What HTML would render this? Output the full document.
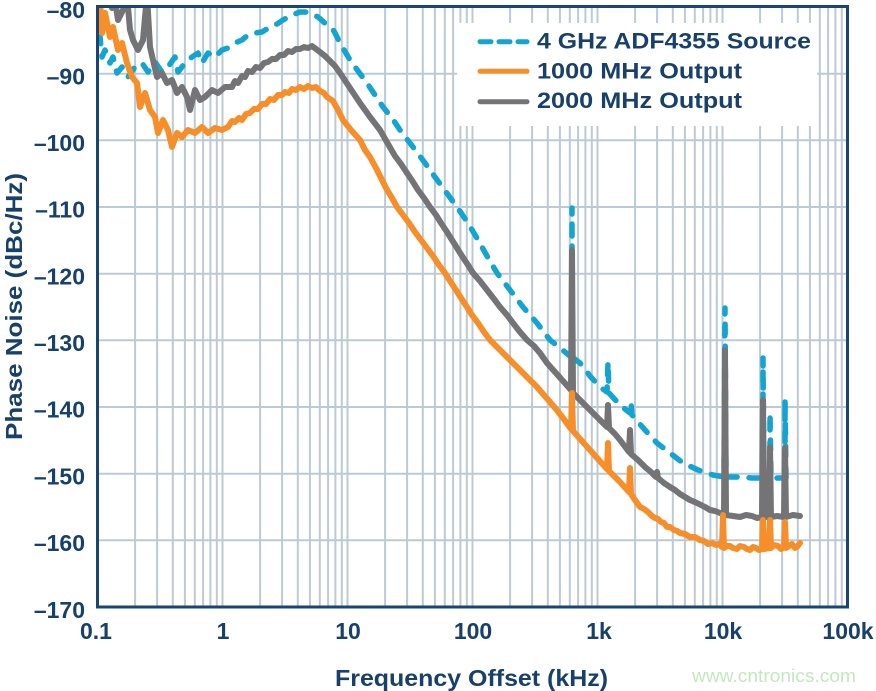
<!DOCTYPE html>
<html>
<head>
<meta charset="utf-8">
<style>
  html,body{margin:0;padding:0;background:#ffffff;}
  svg{display:block;}
  .t{font-family:"Liberation Sans",Arial,sans-serif;font-weight:bold;fill:#17406a;}
</style>
</head>
<body>
<svg width="876" height="691" viewBox="0 0 876 691" xmlns="http://www.w3.org/2000/svg">
  <defs>
    <clipPath id="pa"><rect x="97.5" y="7" width="750" height="600"/></clipPath>
  </defs>
  <rect x="0" y="0" width="876" height="691" fill="#ffffff"/>

  <!-- grid -->
  <g stroke="#bccad6" stroke-width="2" fill="none">
    <path d="M135.1,7V607 M157.1,7V607 M172.8,7V607 M184.9,7V607 M194.8,7V607 M203.1,7V607 M210.4,7V607 M216.8,7V607
             M222.5,7V607 M260.1,7V607 M282.1,7V607 M297.8,7V607 M309.9,7V607 M319.8,7V607 M328.1,7V607 M335.4,7V607 M341.8,7V607
             M347.5,7V607 M385.1,7V607 M407.1,7V607 M422.8,7V607 M434.9,7V607 M444.8,7V607 M453.1,7V607 M460.4,7V607 M466.8,7V607
             M472.5,7V607 M510.1,7V607 M532.1,7V607 M547.8,7V607 M559.9,7V607 M569.8,7V607 M578.1,7V607 M585.4,7V607 M591.8,7V607
             M597.5,7V607 M635.1,7V607 M657.1,7V607 M672.8,7V607 M684.9,7V607 M694.8,7V607 M703.1,7V607 M710.4,7V607 M716.8,7V607
             M722.5,7V607 M760.1,7V607 M782.1,7V607 M797.8,7V607 M809.9,7V607 M819.8,7V607 M828.1,7V607 M835.4,7V607 M841.8,7V607"/>
    <path d="M97.5,73.7H847.5 M97.5,140.3H847.5 M97.5,207H847.5 M97.5,273.7H847.5 M97.5,340.3H847.5 M97.5,407H847.5 M97.5,473.7H847.5 M97.5,540.3H847.5"/>
  </g>

  <!-- legend background -->
  <rect x="457" y="23" width="360" height="103" fill="#ffffff"/>

  <g clip-path="url(#pa)" fill="none" stroke-linejoin="round" stroke-linecap="round">
    <!-- blue dashed -->
    <path stroke="#13a4cf" stroke-width="5.5" stroke-dasharray="10 12"
      d="M97,38 L100,37 L102,57 L105,50 L110,63 L113,57 L117,73 L122,67 L128,77 L135,67 L142,63 L148,72 L155,62 L162,72 L168,67 L175,57 L178,72 L185,63 L192,57 L198,53 L202,63 L208,53 L215,57 L222,50 L228,48 L235,43 L242,40 L248,35 L255,33 L262,32 L270,27 L277,24 L283,20 L292,15 L300,12 L305,12 L310,13 L318,17 L327,25 L334,31 L340,43 L350,60 L358,71 L367,83 L375,95 L383,107 L392,118 L400,130 L413,147 L425,163 L435,177 L446,192 L457,207 L468,223 L478,240 L487,256 L497,273 L510,290 L523,307 L537,323 L550,340 L560,348 L570,356 L572,356 L572,208 L572,357 L580,363 L590,376 L600,387 L607,392 L608,362 L609,393 L620,405 L630,413 L631,402 L632,415 L645,430 L657,443 L670,453 L683,463 L698,470 L713,475 L724,477 L725,308 L726,477 L740,477 L752,478 L763,478 L763,358 L764,478 L770,478 L770,413 L771,478 L785,478 L785,400 L786,478 L797,477"/>
    <!-- gray -->
    <path stroke="#747477" stroke-width="6"
      d="M97,-5 L103,5 L108,-5 L112,8 L115,0 L118,20 L123,10 L127,-5 L130,30 L133,40 L138,50 L143,40 L147,-5 L150,47 L153,60 L157,77 L162,73 L167,83 L172,80 L177,93 L182,87 L187,97 L190,110 L195,90 L200,100 L205,97 L212,90 L218,93 L225,87 L232,87 L235,81 L238,83 L242,76 L245,77 L248,71 L252,72 L256,67 L260,68 L264,63 L268,62 L272,59 L276,59 L280,55 L284,55 L288,51 L292,52 L296,49 L300,49 L304,47 L308,48 L312,46 L316,49 L320,52 L325,56 L330,61 L335,66 L340,73 L350,88 L360,103 L370,117 L380,130 L388,144 L395,156 L401,164 L407,173 L413,182 L418,190 L424,198 L430,207 L436,215 L441,223 L447,232 L452,240 L457,248 L462,256 L468,265 L473,273 L480,281 L487,290 L494,299 L500,307 L507,315 L513,323 L520,332 L527,340 L534,346 L540,353 L547,363 L555,372 L563,381 L571,390 L572,250 L573,393 L581,401 L590,410 L598,418 L607,427 L608,405 L609,428 L615,434 L620,440 L629,452 L630,430 L631,454 L638,460 L645,467 L651,472 L656,477 L657,472 L658,478 L664,483 L670,487 L675,490 L680,494 L685,497 L690,500 L697,503 L705,507 L710,510 L715,511 L720,513 L724,514 L725,350 L726,515 L733,516 L740,517 L746,515 L752,516 L757,518 L762,517 L763,400 L764,517 L769,517 L770,447 L771,517 L777,516 L784,517 L785,448 L786,517 L793,515 L800,516"/>
    <!-- orange -->
    <path stroke="#f68e2a" stroke-width="6"
      d="M97,-5 L100,0 L102,33 L105,13 L110,37 L113,27 L118,50 L122,43 L127,63 L132,77 L137,83 L140,107 L145,93 L150,110 L155,117 L158,133 L163,120 L168,130 L172,147 L177,133 L182,137 L188,130 L195,133 L202,127 L208,133 L215,128 L222,130 L228,127 L232,121 L235,122 L239,118 L242,120 L246,114 L250,113 L254,109 L258,109 L262,104 L266,104 L270,99 L274,100 L278,95 L282,95 L285,92 L289,93 L292,89 L296,90 L300,87 L304,89 L308,86 L312,88 L316,87 L320,91 L324,93 L327,97 L333,101 L338,110 L343,120 L351,130 L360,140 L365,150 L370,157 L376,168 L381,178 L386,188 L392,198 L397,207 L403,215 L409,223 L415,232 L421,240 L427,248 L433,256 L439,265 L445,273 L450,281 L456,290 L461,298 L467,307 L472,315 L478,323 L484,332 L490,340 L496,346 L502,352 L508,358 L514,364 L520,370 L526,376 L531,381 L537,387 L543,394 L550,402 L556,409 L563,418 L571,429 L572,393 L573,431 L581,440 L590,450 L598,459 L607,469 L608,443 L609,471 L615,477 L620,482 L629,492 L630,468 L631,494 L635,500 L640,507 L644,509 L648,512 L652,516 L655,518 L658,519 L661,522 L664,523 L667,527 L670,527 L674,530 L677,531 L680,533 L685,534 L690,537 L695,537 L700,540 L704,541 L708,544 L712,543 L716,545 L719,544 L722,547 L723,515 L724,548 L727,546 L730,546 L733,548 L737,549 L740,546 L744,547 L747,549 L750,550 L753,547 L756,548 L759,550 L762,549 L763,520 L764,549 L769,548 L770,520 L771,548 L774,545 L778,546 L781,549 L784,547 L785,522 L786,548 L789,546 L792,544 L795,548 L797,547 L800,543"/>
  </g>

  <!-- frame -->
  <rect x="97.5" y="6.5" width="750" height="600.5" fill="none" stroke="#1a4572" stroke-width="3"/>

  <!-- legend -->
  <line x1="480" y1="41.7" x2="527" y2="41.7" stroke="#13a4cf" stroke-width="5" stroke-linecap="round" stroke-dasharray="11 8"/>
  <line x1="480" y1="71.3" x2="527" y2="71.3" stroke="#f68e2a" stroke-width="5" stroke-linecap="round"/>
  <line x1="480" y1="101.7" x2="527" y2="101.7" stroke="#747477" stroke-width="5" stroke-linecap="round"/>
  <text class="t" x="537" y="48.5" font-size="22" textLength="274" lengthAdjust="spacingAndGlyphs">4 GHz ADF4355 Source</text>
  <text class="t" x="537" y="78.3" font-size="22" textLength="205" lengthAdjust="spacingAndGlyphs">1000 MHz Output</text>
  <text class="t" x="537" y="108" font-size="22" textLength="205" lengthAdjust="spacingAndGlyphs">2000 MHz Output</text>

  <!-- y tick labels -->
  <g class="t" font-size="23" text-anchor="end">
    <text x="85" y="18">–80</text>
    <text x="85" y="84.5">–90</text>
    <text x="85" y="151">–100</text>
    <text x="85" y="217.7">–110</text>
    <text x="85" y="284.3">–120</text>
    <text x="85" y="351">–130</text>
    <text x="85" y="417.7">–140</text>
    <text x="85" y="484.3">–150</text>
    <text x="85" y="551">–160</text>
    <text x="85" y="618">–170</text>
  </g>

  <!-- x tick labels -->
  <g class="t" font-size="23" text-anchor="middle">
    <text x="96" y="639">0.1</text>
    <text x="223" y="639">1</text>
    <text x="348" y="639">10</text>
    <text x="473" y="639">100</text>
    <text x="599" y="639">1k</text>
    <text x="723" y="639">10k</text>
    <text x="848" y="639">100k</text>
  </g>

  <!-- axis titles -->
  <text class="t" x="335" y="686" font-size="23" textLength="273" lengthAdjust="spacingAndGlyphs">Frequency Offset (kHz)</text>
  <text class="t" font-size="23" textLength="267" lengthAdjust="spacingAndGlyphs" transform="translate(22,440) rotate(-90)">Phase Noise (dBc/Hz)</text>

  <!-- watermark -->
  <text x="692" y="682" font-family="'Liberation Sans',Arial,sans-serif" font-size="18" fill="#c6e6c0" textLength="164" lengthAdjust="spacingAndGlyphs">www.cntronics.com</text>
</svg>
</body>
</html>
